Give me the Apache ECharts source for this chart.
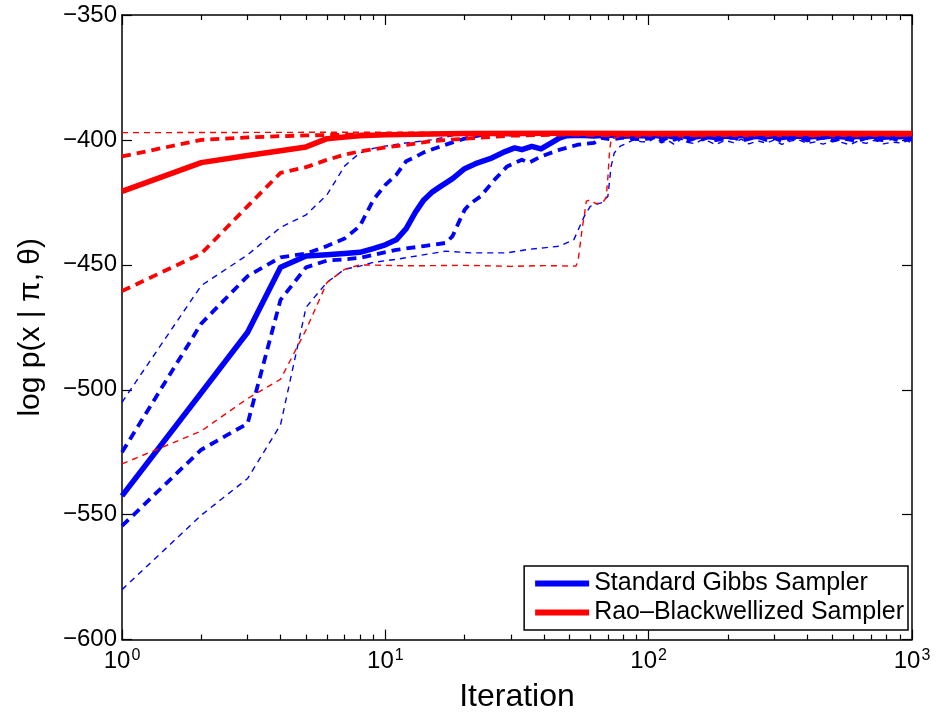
<!DOCTYPE html>
<html>
<head>
<meta charset="utf-8">
<script src="https://cdn.jsdelivr.net/npm/echarts@6/dist/echarts.min.js"></script>
<style>
html,body{margin:0;padding:0;background:#fff;}
#chart{width:947px;height:718px;}
</style>
</head>
<body>
<div id="chart"></div>
<script>
// ---------- data ----------
var seriesNames = ['Standard Gibbs Sampler', 'Rao\u2013Blackwellized Sampler'];
var yTicks = [-600, -550, -500, -450, -400, -350];
var xMajorTicks = [1, 10, 100, 1000];
var xMinorTicks = [2,3,4,5,6,7,8,9,20,30,40,50,60,70,80,90,200,300,400,500,600,700,800,900];

var tailX = [100,105,112,118,125,133,140,150,160,170,180,195,210,225,240,260,280,300,320,345,370,400,430,460,500,540,580,620,670,720,780,840,900,960,1000];

// Standard Gibbs: mean (solid)
var gibbsMean = [[1,-542.5],[2,-501.2],[3,-477],[4,-451],[5,-446.5],[6,-446],[7,-445.5],[8,-445],[9,-443.5],[10,-442],[11,-440],[12,-435.5],[13,-429],[14,-424],[15,-421],[16,-419],[18,-415.5],[20,-411.5],[22,-409.5],[25,-407.5],[28,-405],[31,-403.2],[33,-403.9],[36,-402.6],[39,-403.6],[43,-401],[46,-399.2],[49,-398.3],[55,-398.1],[62,-398.4],[70,-398],[80,-398.5],[90,-398.2]];
var gibbsMeanTail = [-398.4,-398.1,-398.7,-398.3,-398.9,-398.2,-398.6,-398.8,-398.3,-398.7,-399.0,-398.4,-398.8,-398.2,-398.9,-398.5,-398.7,-398.3,-399.0,-398.6,-398.4,-398.9,-398.5,-398.8,-398.3,-398.7,-399.0,-398.5,-398.8,-398.4,-398.9,-398.6,-398.7,-398.4,-398.8];
// Standard Gibbs: thick dashed (upper / lower)
var gibbsHiThick = [[1,-525],[2,-473.5],[3,-454.5],[4,-447],[5,-445.5],[6,-442.5],[7,-439.5],[8,-434.5],[9,-424],[10,-418],[11,-414],[12,-408.5],[13,-406.8],[14,-405],[16,-402.8],[18,-401],[20,-399.5],[24,-397.6],[30,-397.9],[40,-397.5],[50,-398],[60,-397.6],[75,-398.1],[90,-397.7]];
var gibbsHiThickTail = [-397.9,-397.6,-398.2,-397.8,-397.5,-398.1,-397.7,-398.3,-397.9,-397.6,-398.0,-397.7,-398.2,-397.8,-397.6,-398.1,-397.9,-397.7,-398.2,-397.8,-397.6,-398.0,-397.8,-398.3,-397.7,-398.0,-397.8,-398.2,-397.6,-398.0,-397.9,-397.7,-398.1,-397.8,-398.0];
var gibbsLoThick = [[1,-554.5],[2,-524],[3,-513.5],[4,-464],[5,-451],[6,-448.3],[7,-447.8],[8,-447.2],[9,-446],[11,-444],[14,-442.5],[17,-441.2],[18,-438.5],[19,-433],[20,-428],[21,-425.5],[23,-422.6],[26,-415.9],[29,-410.6],[33,-407.9],[35,-409.2],[39,-406.6],[46,-403.9],[54,-401.9],[62,-401.2],[66,-399.2],[72,-399.8],[80,-399.1],[90,-399.7]];
var gibbsLoThickTail = [-399.5,-398.8,-400.2,-399.1,-399.9,-398.9,-400.4,-399.3,-399.8,-398.7,-400.1,-399.4,-399.0,-400.3,-399.6,-398.9,-400.0,-399.2,-400.4,-399.5,-399.0,-400.2,-399.7,-399.1,-400.3,-399.4,-399.9,-400.5,-399.2,-399.8,-400.1,-399.3,-400.4,-399.6,-399.9];
// Standard Gibbs: thin dashed (upper / lower)
var gibbsHiThin = [[1,-505],[2,-458.3],[3,-446],[4,-435],[5,-430],[6,-422],[7,-410.5],[8,-405.2],[9,-403.4],[10,-402.5],[12,-401.2],[15,-400],[20,-397.3],[30,-397.2],[50,-397.4],[70,-397.1],[90,-397.3],[200,-397.2],[500,-397.4],[1000,-397.2]];
var gibbsLoThin = [[1,-580],[2,-550.2],[3,-535.5],[4,-514],[5,-467],[6,-457],[7,-451.8],[8,-450.5],[9,-449],[11,-447.8],[17,-444.5],[21,-445.2],[29,-445.2],[35,-443.8],[40,-443.2],[46,-442.5],[52,-439.9],[57,-430.5],[60,-426.6],[66,-425.2],[70,-422.6],[72,-410.6],[74,-405.2],[78,-402.5],[83,-401.2],[88,-399.9],[94,-400.8]];
var gibbsLoThinTail = [-400.6,-399.4,-401.2,-400.1,-401.8,-399.6,-400.9,-401.5,-399.8,-400.7,-401.9,-400.2,-401.1,-399.7,-401.6,-400.4,-401.3,-400.0,-401.8,-400.5,-399.9,-401.4,-400.8,-401.7,-400.3,-401.0,-401.9,-400.6,-401.4,-400.1,-401.6,-400.9,-401.2,-400.4,-401.3];

// Rao-Blackwellized: mean (solid)
var raoMean = [[1,-420.6],[2,-409.1],[3,-406.2],[4,-404.3],[5,-402.8],[6,-399.5],[7,-398.8],[8,-398.3],[10,-397.9],[20,-397.4],[50,-397.3],[100,-397.4],[300,-397.3],[1000,-397.4]];
var raoHiThick = [[1,-406.6],[2,-400],[3,-399],[4,-398.5],[5,-398.2],[8,-397.8],[15,-397.5],[40,-397.3],[100,-397.2],[400,-397.3],[1000,-397.2]];
var raoLoThick = [[1,-460.5],[2,-445.5],[3,-426.5],[4,-413.2],[5,-410.9],[6,-408],[7,-405.9],[8,-404.6],[10,-403],[12,-402],[15,-400.5],[20,-399.5],[30,-398.3],[50,-397.8],[70,-398.1],[90,-397.7]];
var raoLoThickTail = [-397.9,-397.6,-398.1,-397.7,-398.0,-397.6,-397.9,-398.2,-397.7,-397.9,-397.6,-398.1,-397.8,-397.6,-398.0,-397.7,-398.2,-397.8,-397.6,-398.0,-397.9,-397.7,-398.1,-397.8,-397.6,-398.0,-397.8,-398.1,-397.7,-397.9,-398.0,-397.7,-398.1,-397.8,-397.9];
var raoHiThin = [[1,-397.1],[3,-397],[10,-396.9],[30,-397],[100,-396.9],[300,-397],[1000,-396.9]];
var raoLoThin = [[1,-529.7],[2,-516.5],[3,-503.5],[4,-495.8],[5,-476],[6,-457.1],[7,-451.8],[8,-450],[12,-450.4],[20,-450.2],[30,-450.6],[40,-450.3],[53,-450.5],[54,-448],[56,-435],[57,-430],[58,-424.5],[60,-424],[63,-425.5],[67,-425],[69,-423],[70,-415],[71,-405],[72,-399.5],[80,-398.5],[90,-398.9]];
var raoLoThinTail = [-398.2,-398.7,-398.0,-398.6,-398.3,-398.9,-398.1,-398.5,-398.8,-398.2,-398.6,-398.0,-398.7,-398.4,-398.9,-398.1,-398.5,-398.3,-398.8,-398.0,-398.6,-398.4,-398.9,-398.2,-398.7,-398.1,-398.5,-398.8,-398.3,-398.6,-398.0,-398.7,-398.4,-398.5,-398.2];

// ---------- helpers ----------
function withTail(head, tail) {
  var out = head.slice();
  for (var i = 0; i < tailX.length; i++) out.push([tailX[i], tail[i]]);
  return out;
}
var BLUE = '#0000ff', RED = '#ff0000';
var FONT = "'Liberation Sans', Arial, Helvetica, sans-serif";

function lineSeries(name, data, color, width, dash) {
  return {
    name: name, type: 'line', data: data, showSymbol: false, symbol: 'none',
    xAxisIndex: 0, yAxisIndex: 0, animation: false, silent: true,
    lineStyle: { color: color, width: width, type: dash || 'solid', cap: 'butt', join: 'round' },
    itemStyle: { color: color }, z: 2
  };
}
var thickDash = [9, 6], thinDash = [6, 5];

var series = [
  lineSeries('gHiThin', gibbsHiThin, BLUE, 1.4, thinDash),
  lineSeries('gLoThin', withTail(gibbsLoThin, gibbsLoThinTail), BLUE, 1.4, thinDash),
  lineSeries('gHiThick', withTail(gibbsHiThick, gibbsHiThickTail), BLUE, 3.8, thickDash),
  lineSeries('gLoThick', withTail(gibbsLoThick, gibbsLoThickTail), BLUE, 3.8, thickDash),
  lineSeries(seriesNames[0], withTail(gibbsMean, gibbsMeanTail), BLUE, 5.5, 'solid'),
  lineSeries('rHiThin', raoHiThin, RED, 1.4, thinDash),
  lineSeries('rLoThin', withTail(raoLoThin, raoLoThinTail), RED, 1.4, thinDash),
  lineSeries('rHiThick', raoHiThick, RED, 3.8, thickDash),
  lineSeries('rLoThick', withTail(raoLoThick, raoLoThickTail), RED, 3.8, thickDash),
  lineSeries(seriesNames[1], raoMean, RED, 5.5, 'solid')
];

var supDigits = {1: '0', 10: '1', 100: '2', 1000: '3'};

function xAxisDef(pos, major, showLabel) {
  return {
    type: 'log', logBase: 10, min: 1, max: 1000, position: pos,
    axisLine: { show: major, onZero: false, lineStyle: { color: '#000', width: 1.5 } },
    splitLine: { show: false },
    axisTick: {
      show: true, inside: true, length: major ? 10 : 5,
      lineStyle: { color: '#000', width: 1.2 },
      customValues: major ? xMajorTicks : xMinorTicks
    },
    axisLabel: {
      show: showLabel, margin: 8, fontFamily: FONT, color: '#000',
      customValues: xMajorTicks,
      formatter: function (v) { return '{a|10}{b|' + supDigits[Math.round(v)] + '}'; },
      rich: {
        a: { fontSize: 24, fontFamily: FONT, color: '#000', lineHeight: 28 },
        b: { fontSize: 16, fontFamily: FONT, color: '#000', padding: [0, 0, 13, 1], lineHeight: 28 }
      }
    },
    name: showLabel ? 'Iteration' : '',
    nameLocation: 'middle', nameGap: 37,
    nameTextStyle: { fontSize: 32, fontFamily: FONT, color: '#000' }
  };
}

function yAxisDef(pos, showLabel) {
  return {
    type: 'value', min: -600, max: -350, interval: 50, position: pos,
    axisLine: { show: true, onZero: false, lineStyle: { color: '#000', width: 1.5 } },
    splitLine: { show: false },
    axisTick: { show: true, inside: true, length: 10, lineStyle: { color: '#000', width: 1.2 } },
    axisLabel: {
      show: showLabel, margin: 5, fontSize: 24, fontFamily: FONT, color: '#000',
      customValues: yTicks,
      formatter: function (v) { return String(v).replace('-', '\u2212'); }
    },
    name: showLabel ? 'log p(x | \u03c0, \u03b8)' : '',
    nameLocation: 'middle', nameGap: 76,
    nameTextStyle: { fontSize: 30, fontFamily: FONT, color: '#000' }
  };
}

var chart = echarts.init(document.getElementById('chart'), null, { renderer: 'canvas' });
chart.setOption({
  backgroundColor: '#fff',
  animation: false,
  grid: { left: 122, right: 35, top: 15, bottom: 77, containLabel: false },
  xAxis: [
    xAxisDef('bottom', true, true),
    xAxisDef('bottom', false, false),
    xAxisDef('top', true, false),
    xAxisDef('top', false, false)
  ],
  yAxis: [yAxisDef('left', true), yAxisDef('right', false)],
  legend: {
    data: seriesNames,
    orient: 'vertical', right: 39, top: 566,
    backgroundColor: '#fff', borderColor: '#000', borderWidth: 1.5, borderRadius: 0,
    padding: [5, 4, 5, 11], itemGap: 4, itemWidth: 54, itemHeight: 6, icon: 'rect',
    textStyle: { fontSize: 25, fontFamily: FONT, color: '#000' },
    selectedMode: false
  },
  series: series
});
</script>
</body>
</html>
